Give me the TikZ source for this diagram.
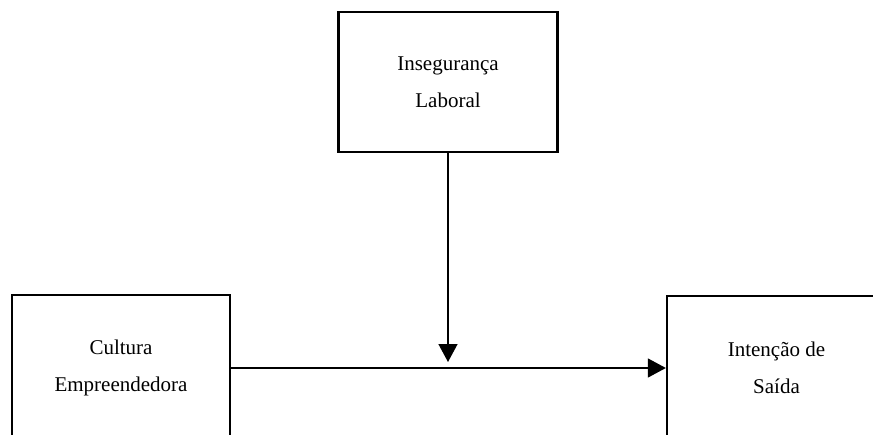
\documentclass[tikz,border=0pt]{standalone}
\usepackage{fontspec}
\setmainfont{Liberation Serif}
\usetikzlibrary{arrows.meta}

\begin{document}
\begin{tikzpicture}[
        x=1pt, y=-1pt,
        var/.style={rectangle, draw, line width=2.3pt, inner sep=0pt, align=center,
            font=\fontsize{21}{37.5}\selectfont},
        arrow/.style={-{Triangle[width=19pt,length=18pt]}, line width=1.4pt}
    ]
        \useasboundingbox (0,0) rectangle (873,434);

        % Moderator
        \node[var, minimum width=219, minimum height=140] (inseg) at (448,82) {Insegurança\\Laboral};

        % Predictor and outcome
        \node[var, minimum width=218, minimum height=146] (cultura) at (121,368) {Cultura\\Empreendedora};
        \node[var, minimum width=219, minimum height=144] (saida) at (776.5,368) {Intenção de\\Saída};

        \coordinate (meio) at (inseg.south |- 0,362);

        \draw[arrow] (cultura) -- (saida);
        \draw[arrow] (inseg) -- (meio);
    \end{tikzpicture}
\end{document}
